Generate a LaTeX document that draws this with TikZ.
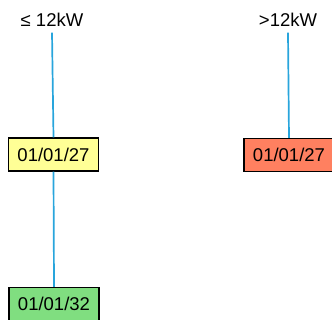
\documentclass[tikz,border=0pt]{standalone}
\usepackage{fontspec}
\setmainfont{Liberation Sans}
\begin{document}
\begin{tikzpicture}[x=1pt,y=-1pt,
  lbl/.style={font=\fontsize{18.5}{21}\selectfont, inner sep=0pt, outer sep=6pt, anchor=center},
  datebox/.style={draw=black, line width=1.2pt, minimum width=90pt, minimum height=33pt, inner sep=0pt, font=\fontsize{18.5}{21}\selectfont},
  conn/.style={draw={rgb,255:red,40;green,165;blue,220}, line width=1.7pt}]
\useasboundingbox (0,0) rectangle (332,320);
\begin{scope}
\clip (0,0) rectangle (332,320);
\node[lbl] (l1) at (52,20) {≤ 12kW};
\node[lbl] (l2) at (288,20) {>12kW};
\node[datebox, fill={rgb,255:red,255;green,255;blue,150}] (y1) at (53.5,154.5) {01/01/27};
\node[datebox, fill={rgb,255:red,255;green,128;blue,96}] (r1) at (289,155) {01/01/27};
\node[datebox, fill={rgb,255:red,128;green,222;blue,128}] (g1) at (54,304) {01/01/32};
\draw[conn] (l1.south) -- (y1.north);
\draw[conn] (y1.south) -- (g1.north);
\draw[conn] (l2.south) -- (r1.north);
\end{scope}
\end{tikzpicture}
\end{document}
